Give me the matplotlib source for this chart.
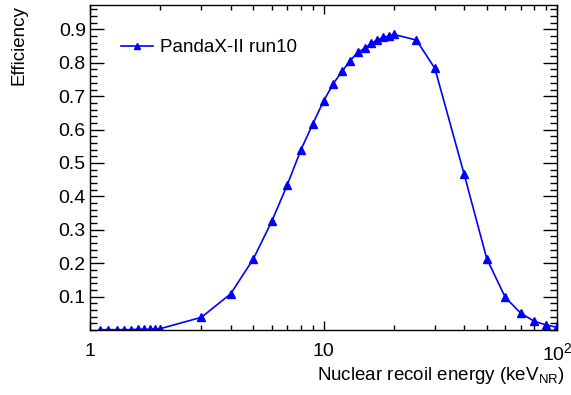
import numpy as np
import matplotlib
matplotlib.use("Agg")
import matplotlib.pyplot as plt
from matplotlib.ticker import FixedLocator, FixedFormatter, MultipleLocator

# PandaX-II run10 NR efficiency
energy = [1.1, 1.2, 1.3, 1.4, 1.5, 1.6, 1.7, 1.8, 1.9, 2.0,
          3, 4, 5, 6, 7, 8, 9, 10,
          11, 12, 13, 14, 15, 16, 17, 18, 19, 20,
          25, 30, 40, 50, 60, 70, 80, 90, 100]
eff = [0.001, 0.001, 0.001, 0.001, 0.001, 0.002, 0.002, 0.002, 0.003, 0.004,
       0.038, 0.108, 0.212, 0.325, 0.435, 0.539, 0.617, 0.685,
       0.737, 0.774, 0.806, 0.831, 0.843, 0.858, 0.868, 0.876, 0.880, 0.885,
       0.868, 0.783, 0.467, 0.214, 0.098, 0.050, 0.026, 0.015, 0.008]

x_ticks = [1, 10, 100]
x_labels = ["1", "10", r"$\mathregular{10^{2}}$"]
y_ticks = [0.1, 0.2, 0.3, 0.4, 0.5, 0.6, 0.7, 0.8, 0.9]

plt.rcParams['font.family'] = ['Liberation Sans', 'DejaVu Sans']
plt.rcParams['mathtext.fontset'] = 'custom'
plt.rcParams['mathtext.rm'] = 'Liberation Sans'

fig = plt.figure(figsize=(5.71, 3.95), dpi=100)
ax = fig.add_axes([90 / 571, 65 / 395, 467 / 571, 325 / 395])

ax.plot(energy, eff, color='#0000ff', lw=1.2, marker='^', ms=5.5,
        label='PandaX-II run10')

ax.set_xscale('log')
ax.set_xlim(1, 100)
ax.set_ylim(0, 0.973)

ax.xaxis.set_major_locator(FixedLocator(x_ticks))
ax.xaxis.set_major_formatter(FixedFormatter(x_labels))
minors = [m * d for d in (1, 10) for m in range(2, 10)]
ax.xaxis.set_minor_locator(FixedLocator(minors))
ax.xaxis.set_minor_formatter(FixedFormatter([""] * len(minors)))
ax.yaxis.set_major_locator(FixedLocator(y_ticks))
ax.yaxis.set_major_formatter(FixedFormatter([str(v) for v in y_ticks]))
ax.yaxis.set_minor_locator(MultipleLocator(0.02))

ax.tick_params(which='both', direction='in', top=True, right=True,
               labelsize=14, width=1)
ax.tick_params(axis='y', which='major', length=10, pad=3)
ax.tick_params(axis='y', which='minor', length=5)
ax.tick_params(axis='x', which='major', length=6.5, pad=9)
ax.tick_params(axis='x', which='minor', length=3.3)
for s in ax.spines.values():
    s.set_linewidth(1)

ax.set_xlabel(r"Nuclear recoil energy (keV$_{\mathregular{NR}}$)", fontsize=13.5,
              ha='right')
ax.xaxis.set_label_coords(1.017, -0.108)
ax.set_ylabel("Efficiency", fontsize=13.5, ha='right')
ax.yaxis.set_label_coords(-0.133, 1.0)

ax.legend(loc='center left', bbox_to_anchor=(0.066, 0.869), frameon=False,
          fontsize=13.5, handlelength=1.7, handletextpad=0.37, markerscale=0.8,
          borderpad=0, borderaxespad=0)

fig.savefig("out.png", dpi=100)
